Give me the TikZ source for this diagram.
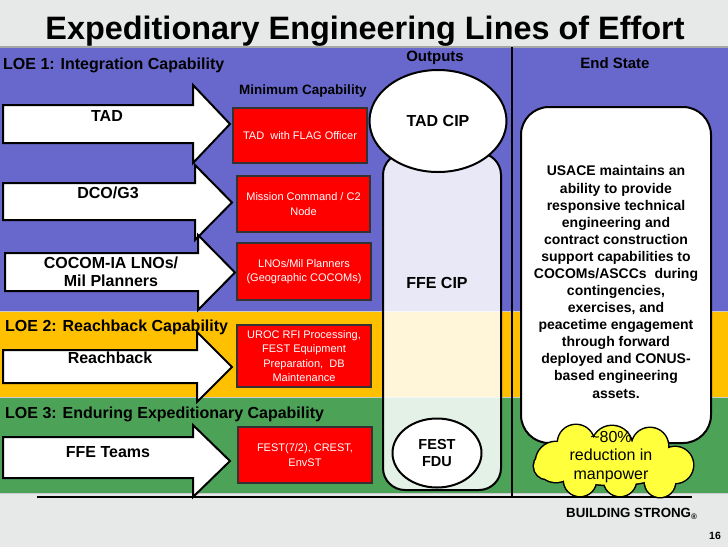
\documentclass[tikz,border=0pt]{standalone}
\usepackage{fontspec}
\setmainfont{Liberation Sans}
\usetikzlibrary{shapes.geometric,shapes.symbols}
\definecolor{bgray}{RGB}{231,233,232}
\definecolor{loeblue}{RGB}{104,104,204}
\definecolor{loeorange}{RGB}{255,192,0}
\definecolor{loegreen}{RGB}{76,163,88}
\definecolor{boxred}{RGB}{255,0,0}
\definecolor{cloudyellow}{RGB}{255,255,60}
\newcommand\blockarr[7]{%
  \draw[arrowshape] (#1,#2) -- (#4,#2) -- (#4,#5) -- (#7,{(#5+#6)/2}) -- (#4,#6) -- (#4,#3) -- (#1,#3) -- cycle;}
\newcommand\cloudpuffs{%
  (556,462) circle[radius=20pt] (576,443) circle[radius=18pt] (612,446) circle[radius=20pt]
  (650,446) circle[radius=18pt] (675,465) circle[radius=18pt] (660,482) circle[radius=15pt]
  (620,480) circle[radius=16pt] (580,480) circle[radius=16pt] (547,466) circle[radius=13pt]
  (614,463) ellipse[x radius=60pt,y radius=22pt]}
\begin{document}
\begin{tikzpicture}[x=1pt,y=-1pt,
  arrowshape/.style={draw=black,fill=white,line width=2pt,line join=miter},
  arrowtext/.style={font=\fontsize{16}{18}\selectfont\bfseries,align=center,inner sep=0pt},
  loelabel/.style={font=\fontsize{16}{18}\selectfont\bfseries,anchor=west,inner sep=0pt},
  redbox/.style={draw=black!80,fill=boxred,line width=1.5pt},
  redtext/.style={font=\fontsize{11}{14.5}\selectfont,text=white,align=center,inner sep=0pt},
  headtext/.style={font=\fontsize{15}{17}\selectfont\bfseries,inner sep=0pt},
  outtext/.style={font=\fontsize{16}{18}\selectfont\bfseries,align=center,inner sep=0pt},
  sepline/.style={draw=black,line width=2pt}]
\useasboundingbox (0,0) rectangle (728,547);
% background and bands
\fill[bgray] (0,0) rectangle (728,547);
\fill[loeblue] (0,47) rectangle (728,311);
\fill[loeorange] (0,311) rectangle (728,397);
\fill[loegreen] (0,397) rectangle (728,493);
\draw[gray!70,line width=1.2pt] (0,47) -- (728,47);
\draw[gray!40,line width=0.8pt] (0,311) -- (728,311);
\draw[gray!40,line width=0.8pt] (0,397) -- (728,397);
\draw[gray!40,line width=0.8pt] (0,493) -- (728,493);
% title
\node[font=\fontsize{32.4}{36}\selectfont\bfseries,anchor=base,inner sep=0pt] (title) at (365,39) {Expeditionary Engineering Lines of Effort};
% separators
\coordinate (vtop) at (512,47);
\coordinate (vbot) at (512,496);
\coordinate (hl) at (37,497);
\coordinate (hr) at (692,497);
\draw[sepline] (vtop) -- (vbot);
\draw[black,line width=1.5pt] (hl) -- (hr);
% headers
\node[font=\fontsize{16}{18}\selectfont\bfseries,anchor=west,inner sep=0pt] (loe1) at (3,65) {LOE 1: Integration Capability};
\node[headtext] (outputs) at (435,58) {Outputs};
\node[headtext] (endstate) at (615,63) {End State};
\node[font=\fontsize{13.5}{16}\selectfont\bfseries,inner sep=0pt] (mincap) at (303,91) {Minimum Capability};
% arrows
\blockarr{3}{105}{143}{193}{85}{163}{230}
\blockarr{3}{183}{220}{195}{165}{240}{232}
\blockarr{5}{253}{291}{198}{235}{310}{235}
\blockarr{3}{350}{383}{197}{332}{402}{232}
\blockarr{3}{437}{478}{193}{425}{497}{230}
\node[arrowtext] (tad) at (107,116) {TAD};
\node[arrowtext] (dco) at (108,193) {DCO/G3};
\node[arrowtext,font=\fontsize{16}{18.5}\selectfont\bfseries] (cocom) at (111,272) {COCOM-IA LNOs/\\Mil Planners};
\node[arrowtext] (reach) at (110,358) {Reachback};
\node[arrowtext] (ffe) at (108,452) {FFE Teams};
\node[loelabel] (loe2) at (5,327) {LOE 2: Reachback Capability};
\node[loelabel] (loe3) at (5,414) {LOE 3: Enduring Expeditionary Capability};
% red boxes
\draw[redbox] (233,108) rectangle (367,163);
\draw[redbox] (237,176) rectangle (370,232);
\draw[redbox] (237,243) rectangle (371,300);
\draw[redbox] (237,325) rectangle (371,387);
\draw[redbox] (238,427) rectangle (372,483);
\node[redtext] (r1) at (300,135.5) {TAD\ \ with FLAG Officer};
\node[redtext] (r2) at (303.5,204) {Mission Command / C2\\Node};
\node[redtext] (r3) at (304,271.5) {LNOs/Mil Planners\\(Geographic COCOMs)};
\node[redtext] (r4) at (304,356) {UROC RFI Processing,\\FEST Equipment\\Preparation,\ \ DB\\Maintenance};
\node[redtext] (r5) at (305,455) {FEST(7/2), CREST,\\EnvST};
% outputs column
\draw[black,line width=2pt,fill=white,fill opacity=0.85,rounded corners=22pt] (383,153) rectangle (501,490);
\node[ellipse,draw=black,line width=2pt,fill=white,minimum width=137pt,minimum height=102pt,inner sep=0pt] (tadcip) at (438,121) {};
\node[outtext] (tadciptext) at (438,121) {TAD CIP};
\node[outtext] (ffecip) at (437,283) {FFE CIP};
\node[ellipse,draw=black,line width=2pt,fill=white,minimum width=89pt,minimum height=69pt,inner sep=0pt] (festfdu) at (437,453) {};
\node[outtext,font=\fontsize{14.5}{17}\selectfont\bfseries] (festtext) at (437,453) {FEST\\FDU};
% end state
\draw[black,line width=2pt,fill=white,rounded corners=28pt] (521,107) rectangle (711,443);
\node[font=\fontsize{14}{17.08}\selectfont\bfseries,align=center,inner sep=0pt] (endtext) at (616,282) {USACE\ maintains an\\ability to provide\\responsive technical\\engineering and\\contract construction\\support capabilities to\\COCOMs/ASCCs\ \ during\\contingencies,\\exercises, and\\peacetime engagement\\through forward\\deployed and CONUS-\\based engineering\\assets.};
% cloud: outline of the union of puffs
\draw[black,line width=3pt] \cloudpuffs;
\fill[cloudyellow] \cloudpuffs;
\node[font=\fontsize{16}{18.5}\selectfont,align=center,inner sep=0pt] (cloudtext) at (611,457) {\textasciitilde80\%\\reduction in\\manpower};
% footer
\node[font=\fontsize{13.3}{16}\selectfont\bfseries,anchor=west,inner sep=0pt] (bs) at (566,514) {BUILDING STRONG\raisebox{-0.35ex}{\fontsize{8}{9}\selectfont\textregistered}};
\node[font=\fontsize{10.5}{12}\selectfont\bfseries,inner sep=0pt] (pg) at (715,536) {16};
\end{tikzpicture}
\end{document}
